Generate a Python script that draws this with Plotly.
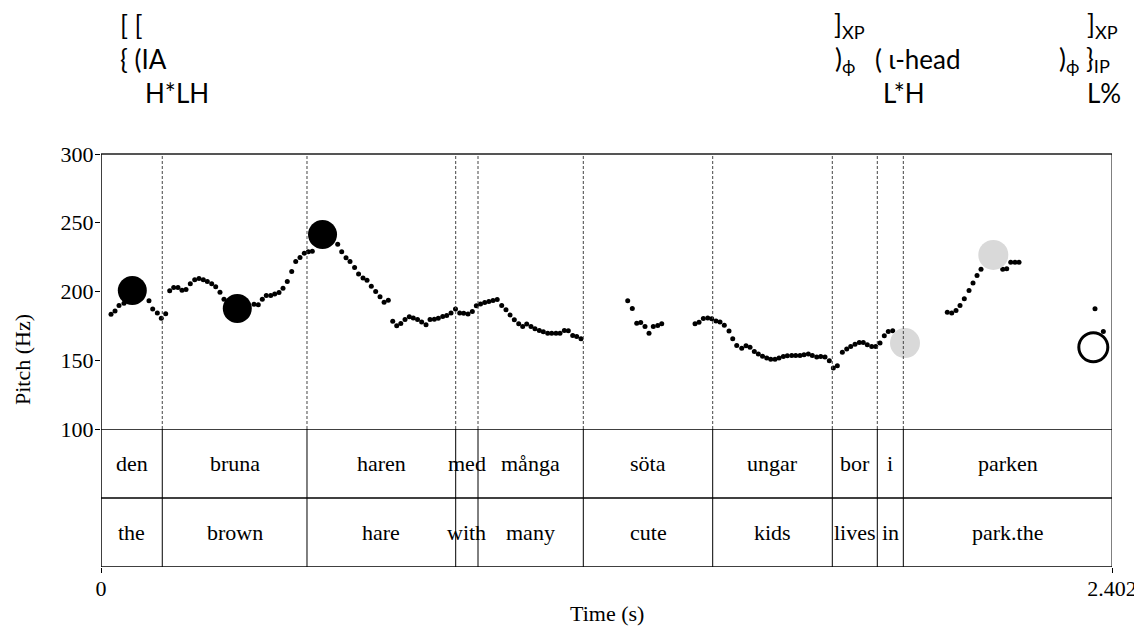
import plotly.graph_objects as go

# ---------------- data ----------------
pitch_t = [0.0238, 0.0333, 0.0428, 0.0546, 0.1140, 0.1228, 0.1338, 0.1433, 0.1537,
           0.1632, 0.1727, 0.1829, 0.1924, 0.2020, 0.2122, 0.2226, 0.2328, 0.2431,
           0.2526, 0.2630, 0.2725, 0.2827, 0.2922,
           0.3635, 0.3737, 0.3832, 0.3927, 0.4032, 0.4127, 0.4229, 0.4324, 0.4426,
           0.4531, 0.4626, 0.4728, 0.4830, 0.4925, 0.5020,
           0.5624, 0.5719, 0.5821, 0.5916, 0.6025, 0.6120, 0.6225, 0.6320, 0.6422,
           0.6526, 0.6629, 0.6726, 0.6826, 0.6931, 0.7026, 0.7123, 0.7223, 0.7325,
           0.7420, 0.7520, 0.7619, 0.7722, 0.7817, 0.7919, 0.8014, 0.8118, 0.8214,
           0.8316, 0.8422, 0.8522, 0.8617, 0.8720, 0.8822, 0.8917, 0.9017, 0.9116,
           0.9214, 0.9314, 0.9413, 0.9520, 0.9622, 0.9718, 0.9820, 0.9924, 1.0019,
           1.0114, 1.0216, 1.0311, 1.0414, 1.0509, 1.0613, 1.0708, 1.0810, 1.0905,
           1.1008, 1.1103, 1.1207, 1.1302, 1.1404,
           1.2514, 1.2623, 1.2728, 1.2823, 1.2925, 1.3020, 1.3122, 1.3227, 1.3322,
           1.4113, 1.4208, 1.4311, 1.4415, 1.4510, 1.4612, 1.4707, 1.4809, 1.4921,
           1.5009, 1.5104, 1.5223, 1.5325, 1.5420, 1.5522, 1.5617, 1.5717, 1.5817,
           1.5912, 1.6014, 1.6109, 1.6211, 1.6306, 1.6411, 1.6506, 1.6608, 1.6703,
           1.6805, 1.6900, 1.7005, 1.7100, 1.7202, 1.7304, 1.7399, 1.7494, 1.7613,
           1.7717, 1.7812, 1.7914, 1.8016, 1.8111, 1.8206, 1.8311, 1.8406, 1.8508,
           1.8610, 1.8705, 1.8810,
           2.0107, 2.0212, 2.0314, 2.0409, 2.0511, 2.0623, 2.0718, 2.0813, 2.0908,
           2.1424, 2.1519, 2.1614, 2.1716, 2.1811,
           2.3616, 2.3814]
pitch_hz = [183.5, 185.9, 189.8, 191.5, 193.2, 187.2, 184.3, 180.6, 183.8,
            200.5, 202.9, 202.9, 201.0, 201.4, 205.6, 208.5, 209.4, 208.5,
            207.3, 205.6, 203.4, 199.5, 194.4,
            190.8, 190.3, 194.4, 197.1, 197.1, 198.1, 199.3, 202.4, 207.3,
            214.5, 221.8, 224.7, 227.9, 229.0, 229.3,
            234.4, 229.0, 224.5, 221.8, 217.5, 212.7, 209.9, 208.1, 203.9,
            200.0, 196.1, 192.2, 193.6, 178.4, 175.1, 176.7, 179.6, 181.6,
            180.8, 179.6, 177.9, 175.8, 179.6, 179.9, 180.5, 181.8, 182.5,
            184.3, 187.2, 184.3, 184.1, 183.6, 185.4, 189.7, 191.0, 192.0,
            192.7, 193.5, 194.1, 189.8, 186.7, 183.0, 179.4, 176.5, 174.5,
            176.3, 174.5, 172.9, 171.6, 170.7, 169.7, 169.7, 169.7, 169.7,
            171.6, 171.4, 168.0, 167.3, 165.6,
            193.2, 187.6, 177.0, 177.5, 174.5, 169.7, 174.5, 175.3, 176.5,
            176.5, 177.7, 180.3, 180.8, 180.2, 178.6, 177.8, 175.5, 171.2,
            165.6, 160.7, 158.8, 160.6, 159.5, 156.4, 154.5, 153.0, 151.6,
            150.8, 150.8, 151.6, 152.8, 153.3, 153.5, 153.5, 153.5, 154.0,
            154.5, 153.5, 152.3, 152.8, 152.3, 149.6, 144.3, 146.0, 155.9,
            158.1, 160.0, 161.7, 162.9, 162.9, 161.2, 160.0, 160.0, 162.5,
            167.8, 170.9, 171.4,
            185.0, 184.3, 186.2, 189.8, 194.7, 200.7, 206.1, 211.6, 216.2,
            216.2, 216.5, 221.3, 221.3, 221.3,
            187.4, 170.9]

# tonal targets
black_t = [0.0744, 0.3238, 0.5263]
black_hz = [200.7, 187.6, 241.5]
gray_t = [1.9102, 2.1200]
gray_hz = [162.5, 226.6]
open_t = [2.3576]
open_hz = [159.5]

# word tiers
boundaries = [0.0, 0.1456, 0.4894, 0.8427, 0.8957, 1.1459, 1.4533, 1.7375,
              1.8444, 1.9062, 2.402]
words_sv = ["den", "bruna", "haren", "med", "många", "söta", "ungar", "bor", "i", "parken"]
words_en = ["the", "brown", "hare", "with", "many", "cute", "kids", "lives", "in", "park.the"]

y_ticks = [100, 150, 200, 250, 300]
x_end = 2.402

# top prosodic annotation rows: (text, left pixel x)
row1 = [("[ [", 118), ("]<sub>XP</sub>", 832), ("]<sub>XP</sub>", 1085)]
row2 = [("{ (IA", 118), (")<sub>ϕ</sub>", 833), ("( ι-head", 873),
        (")<sub>ϕ</sub> }<sub>IP</sub>", 1057)]
row3 = [("H*LH", 143), ("L*H", 881), ("L%", 1085)]

# ---------------- figure ----------------
OFF = 8                      # page body margin of the html page
W, H = 1142 - OFF, 628 - OFF
X0, X1, Y0, Y1 = 101, 1112, 154, 567   # plot box in window pixels
ML, MR, MT, MB = X0 - OFF, W - (X1 - OFF), Y0 - OFF, H - (Y1 - OFF)
PW = X1 - X0
PH = Y1 - Y0
pitch_bottom = (Y1 - 429) / PH


def px2paper_x(px):
    return (px - X0) / PW


def px2paper_y(py):
    return (Y1 - py) / PH


serif = "Liberation Serif"
sans = "Lato"

fig = go.Figure()
fig.add_trace(go.Scatter(x=pitch_t, y=pitch_hz, mode="markers",
                         marker=dict(size=5, color="black"),
                         xaxis="x", yaxis="y", hoverinfo="skip"))
fig.add_trace(go.Scatter(x=black_t, y=black_hz, mode="markers",
                         marker=dict(size=29, color="black"),
                         xaxis="x", yaxis="y", hoverinfo="skip"))
fig.add_trace(go.Scatter(x=gray_t, y=gray_hz, mode="markers",
                         marker=dict(size=30, color="#d9d9d9"),
                         xaxis="x", yaxis="y", hoverinfo="skip"))
fig.add_trace(go.Scatter(x=open_t, y=open_hz, mode="markers",
                         marker=dict(size=29, symbol="circle-open", color="black",
                                     line=dict(width=3, color="black")),
                         xaxis="x", yaxis="y", hoverinfo="skip"))

shapes = []
shapes.append(dict(type="line", xref="x", yref="paper", x0=0, x1=x_end, y0=1, y1=1,
                   line=dict(color="#555555", width=2)))
shapes.append(dict(type="line", xref="x", yref="paper", x0=x_end, x1=x_end, y0=0, y1=1,
                   line=dict(color="black", width=1)))
shapes.append(dict(type="line", xref="x", yref="paper", x0=0, x1=0, y0=0, y1=1,
                   line=dict(color="black", width=1.5)))
for yy in [0, 0.5, 1.0]:
    shapes.append(dict(type="line", xref="x", yref="y2", x0=0, x1=x_end, y0=yy, y1=yy,
                       line=dict(color="black", width=1.5)))
for b in boundaries[1:-1]:
    shapes.append(dict(type="line", xref="x", yref="y", x0=b, x1=b, y0=100, y1=300,
                       line=dict(color="#444444", width=1, dash="3px,2px")))
    shapes.append(dict(type="line", xref="x", yref="y2", x0=b, x1=b, y0=0, y1=1,
                       line=dict(color="black", width=1)))

annotations = []
for i in range(len(words_sv)):
    c = (boundaries[i] + boundaries[i + 1]) / 2
    annotations.append(dict(x=c, y=0.75, xref="x", yref="y2", text=words_sv[i],
                            showarrow=False, font=dict(family=serif, size=22, color="black")))
    annotations.append(dict(x=c, y=0.25, xref="x", yref="y2", text=words_en[i],
                            showarrow=False, font=dict(family=serif, size=22, color="black")))

for row, py in [(row1, 25), (row2, 59.5), (row3, 93.5)]:
    for txt, px in row:
        annotations.append(dict(x=px2paper_x(px), y=px2paper_y(py), xref="paper", yref="paper",
                                text=txt, showarrow=False, xanchor="left", yanchor="middle",
                                font=dict(family=sans, size=26, color="black")))

# axis titles
annotations.append(dict(x=px2paper_x(22), y=px2paper_y(360), xref="paper", yref="paper",
                        text="Pitch (Hz)", textangle=-90, showarrow=False,
                        xanchor="center", yanchor="middle",
                        font=dict(family=serif, size=22, color="black")))
annotations.append(dict(x=0.5, y=px2paper_y(613), xref="paper", yref="paper",
                        text="Time (s)", showarrow=False,
                        xanchor="center", yanchor="middle",
                        font=dict(family=serif, size=22, color="black")))

fig.update_layout(
    width=W, height=H,
    margin=dict(l=ML, r=MR, t=MT, b=MB, autoexpand=False),
    plot_bgcolor="white", paper_bgcolor="white",
    showlegend=False,
    xaxis=dict(domain=[0, 1], range=[0, x_end], anchor="y2", automargin=False,
               tickvals=[0, x_end], ticktext=["0", "2.402"],
               ticks="outside", ticklen=5, tickcolor="black", tickwidth=1,
               showgrid=False, zeroline=False, showline=False,
               tickfont=dict(family=serif, size=22, color="black")),
    yaxis=dict(domain=[pitch_bottom, 1], range=[100, 300], anchor="x", automargin=False,
               tickvals=y_ticks, ticks="outside", ticklen=5, tickcolor="black",
               showgrid=False, zeroline=False, showline=False,
               tickfont=dict(family=serif, size=22, color="black")),
    yaxis2=dict(domain=[0, pitch_bottom], range=[0, 1], anchor="x", visible=False,
                automargin=False),
    shapes=shapes,
    annotations=annotations,
)

try:
    fig.update_xaxes(ticklabelstandoff=-3)
    fig.update_yaxes(ticklabelstandoff=-3, selector=dict(anchor="x"))
except Exception:
    pass

fig.write_html("out.html")
